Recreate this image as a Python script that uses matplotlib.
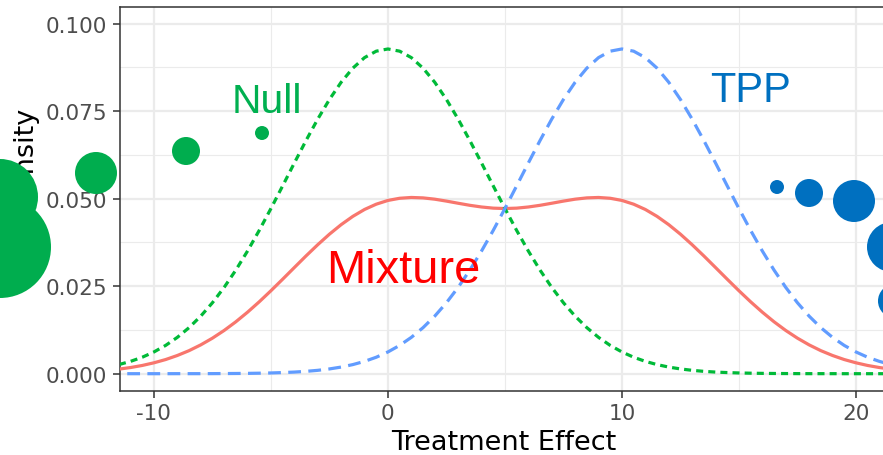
import matplotlib
matplotlib.use('Agg')
import matplotlib.pyplot as plt
import numpy as np
from matplotlib.patches import Circle

# 数据：密度值（x 从 -12 到 22，每隔 0.5 取一个点）
effect = np.arange(-12, 22.5, 0.5)
null_density = [0.00189, 0.00260, 0.00352, 0.00470, 0.00621, 0.00808, 0.01038, 0.01315,
                0.01644, 0.02027, 0.02466, 0.02960, 0.03505, 0.04094, 0.04719, 0.05366,
                0.06020, 0.06662, 0.07274, 0.07835, 0.08327, 0.08730, 0.09031, 0.09215,
                0.09278,
                0.09215, 0.09031, 0.08730, 0.08327, 0.07835, 0.07274, 0.06662, 0.06020,
                0.05366, 0.04719, 0.04094, 0.03505, 0.02960, 0.02466, 0.02027, 0.01644,
                0.01315, 0.01038, 0.00808, 0.00621, 0.00470, 0.00352, 0.00260, 0.00189,
                0.00136, 0.00096, 0.00067, 0.00046, 0.00032, 0.00021, 0.00014, 0.00009,
                0.00006, 0.00004, 0.00002, 0.00001, 0.00001, 0.00001, 0.0, 0.0,
                0.0, 0.0, 0.0, 0.0]
tpp_density = [0.0, 0.0, 0.0, 0.0, 0.0, 0.0, 0.00001, 0.00001,
               0.00001, 0.00002, 0.00004, 0.00006, 0.00009, 0.00014, 0.00021, 0.00032,
               0.00046, 0.00067, 0.00096, 0.00136, 0.00189, 0.00260, 0.00352, 0.00470,
               0.00621, 0.00808, 0.01038, 0.01315, 0.01644, 0.02027, 0.02466, 0.02960,
               0.03505, 0.04094, 0.04719, 0.05366, 0.06020, 0.06662, 0.07274, 0.07835,
               0.08327, 0.08730, 0.09031, 0.09215,
               0.09278,
               0.09215, 0.09031, 0.08730, 0.08327, 0.07835, 0.07274, 0.06662, 0.06020,
               0.05366, 0.04719, 0.04094, 0.03505, 0.02960, 0.02466, 0.02027, 0.01644,
               0.01315, 0.01038, 0.00808, 0.00621, 0.00470, 0.00352, 0.00260, 0.00189]
mixture_density = [0.00095, 0.00130, 0.00176, 0.00235, 0.00311, 0.00404, 0.00520, 0.00658,
                   0.00823, 0.01015, 0.01235, 0.01483, 0.01757, 0.02054, 0.02370, 0.02699,
                   0.03033, 0.03365, 0.03685, 0.03986, 0.04258, 0.04495, 0.04692, 0.04843,
                   0.04950, 0.05012, 0.05035, 0.05023, 0.04986, 0.04931, 0.04870, 0.04811,
                   0.04763, 0.04730, 0.04719, 0.04730, 0.04763, 0.04811, 0.04870, 0.04931,
                   0.04986, 0.05023, 0.05035, 0.05012, 0.04950, 0.04843, 0.04692, 0.04495,
                   0.04258, 0.03986, 0.03685, 0.03365, 0.03033, 0.02699, 0.02370, 0.02054,
                   0.01757, 0.01483, 0.01235, 0.01015, 0.00823, 0.00658, 0.00520, 0.00404,
                   0.00311, 0.00235, 0.00176, 0.00130, 0.00095]
x_ticks = [-10, 0, 10, 20]
y_ticks = [0.0, 0.025, 0.05, 0.075, 0.1]
y_ticklabels = ['0.000', '0.025', '0.050', '0.075', '0.100']

# 装饰用的圆点（像素坐标 x, y, 半径）
green_dots = [(262, 134, 7), (186, 152, 14), (96, 174, 21), (0, 198, 38), (0, 248, 51)]
blue_dots = [(777, 188, 7), (809, 194, 14), (854, 202, 21), (892, 248, 25), (895, 302, 17)]

plt.rcParams['axes.unicode_minus'] = False
plt.rcParams['font.family'] = ['DejaVu Sans']

W, H = 883, 456
fig = plt.figure(figsize=(W / 100, H / 100), dpi=100)
ax = fig.add_axes([120 / W, (H - 391.7) / H, 768 / W, 383.7 / H])

ax.plot(effect, mixture_density, color='#F8766D', lw=2.3, zorder=3)
ax.plot(effect, null_density, color='#00BA38', lw=2.3, dashes=(2.2, 1.6), zorder=3)
ax.plot(effect, tpp_density, color='#619CFF', lw=2.3, dashes=(4.0, 2.3), zorder=3)

ax.set_xlim(-11.45, 21.37)
ax.set_ylim(-0.00486, 0.10477)
ax.set_xticks(x_ticks)
ax.set_xticks([-5, 5, 15], minor=True)
ax.set_yticks(y_ticks)
ax.set_yticklabels(y_ticklabels)
ax.set_yticks([0.0125, 0.0375, 0.0625, 0.0875], minor=True)
ax.grid(True, which='major', color='#EBEBEB', lw=1.6, zorder=0)
ax.grid(True, which='minor', color='#EBEBEB', lw=0.8, zorder=0)
ax.set_axisbelow(True)
ax.tick_params(which='major', length=5, width=1.1, color='#333333', pad=4,
               labelsize=15.5, labelcolor='#4D4D4D')
ax.tick_params(which='minor', length=0)
for s in ax.spines.values():
    s.set_color('#333333')
    s.set_linewidth(1.1)

ax.set_xlabel('Treatment Effect', fontsize=19.5, color='black')
ax.xaxis.set_label_coords(0.5, -0.1)
ax.set_ylabel('Density', fontsize=19.5, color='black')
ax.yaxis.set_label_coords(-0.108, 0.61)

lab = ['Liberation Sans', 'DejaVu Sans']
ax.text(-6.7, 0.0748, 'Null', color='#00B050', fontsize=29.3, family=lab,
        ha='left', va='baseline')
ax.text(13.76, 0.0779, 'TPP', color='#0070C0', fontsize=30, family=lab,
        ha='left', va='baseline')
ax.text(-2.65, 0.0262, 'Mixture', color='#FF0000', fontsize=33.8, family=lab,
        ha='left', va='baseline')

# 覆盖层画圆点
over = fig.add_axes([0, 0, 1, 1], zorder=5)
over.set_xlim(0, W)
over.set_ylim(H, 0)
over.axis('off')
over.patch.set_alpha(0)
for cx, cy, r in green_dots:
    over.add_patch(Circle((cx, cy), r, color='#00AD4E', lw=0))
for cx, cy, r in blue_dots:
    over.add_patch(Circle((cx, cy), r, color='#0070C0', lw=0))

fig.savefig('out.png', dpi=100)
